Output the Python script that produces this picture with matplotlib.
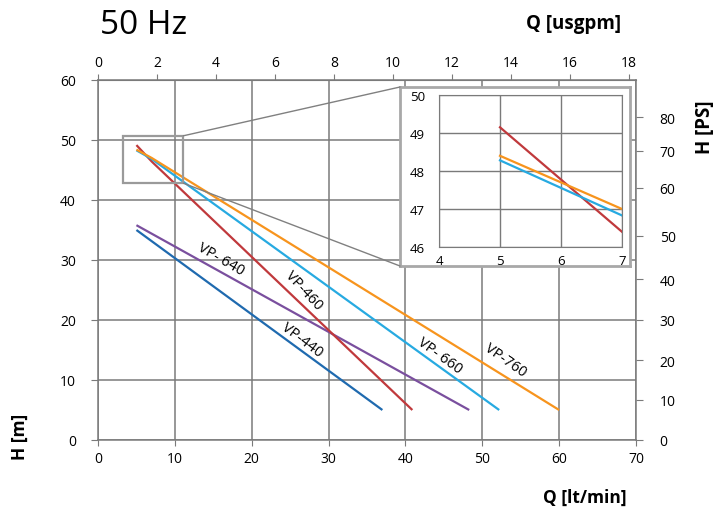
import numpy as np
import matplotlib
matplotlib.use("Agg")
import matplotlib.pyplot as plt
from matplotlib.patches import Rectangle, ConnectionPatch

plt.rcParams['font.family'] = ['Open Sans', 'DejaVu Sans']

# pump curves, Q [lt/min] vs H [m]
q_440 = [5, 37]
h_440 = [35.0, 5.0]
q_640 = [5, 48.3]
h_640 = [35.8, 5.0]
q_460 = [5, 7, 40.9]
h_460 = [49.15, 46.4, 5.0]
q_660 = [5, 7, 52.2]
h_660 = [48.28, 46.83, 5.0]
q_760 = [5, 7, 60]
h_760 = [48.4, 47.0, 5.0]

names = ['VP-440', 'VP- 640', 'VP-460', 'VP- 660', 'VP-760']
colors = ['#1f6aaf', '#7a4f9e', '#c0393c', '#27aae1', '#f7941d']

# secondary scales as printed on the sheet
lpm_per_usgpm = 3.84
usgpm_ticks = [0, 2, 4, 6, 8, 10, 12, 14, 16, 18]
psi_ticks = [0, 10, 20, 30, 40, 50, 60, 70, 80]
psi_tick_at_m = [0, 6.67, 13.33, 20, 26.8, 34.0, 42.0, 48.2, 53.8]

grid_c = '#7a7a7a'

fig = plt.figure(figsize=(7.15, 5.1), dpi=100)
ax = fig.add_axes([98/715, 1-441/510, 538/715, 360/510])

series = [(q_440, h_440), (q_640, h_640), (q_460, h_460), (q_660, h_660), (q_760, h_760)]
for (q, h), c in zip(series, colors):
    ax.plot(q, h, color=c, lw=1.6, solid_capstyle='butt', zorder=3)

ax.set_xlim(0, 70)
ax.set_ylim(0, 60)
ax.set_xticks(np.arange(0, 71, 10))
ax.set_yticks(np.arange(0, 61, 10))
ax.grid(True, color=grid_c, lw=1.1)
for s in ax.spines.values():
    s.set_color(grid_c)
    s.set_linewidth(1.1)
ax.tick_params(axis='y', direction='out', length=5, color=grid_c, pad=11, labelsize=10)
ax.tick_params(axis='x', direction='out', length=4, color=grid_c, pad=4, labelsize=10)

# top axis in US gpm
top = ax.secondary_xaxis('top', functions=(lambda x: x / lpm_per_usgpm, lambda x: x * lpm_per_usgpm))
top.set_xticks(usgpm_ticks)
top.tick_params(direction='out', length=4, color=grid_c, pad=3, labelsize=10)
top.spines['top'].set_color(grid_c)

# right axis in PSI
rax = ax.twinx()
rax.set_ylim(0, 60)
rax.set_yticks(psi_tick_at_m)
rax.set_yticklabels([str(v) for v in psi_ticks])
rax.tick_params(direction='out', length=5, color=grid_c, pad=12, labelsize=10)
for s in rax.spines.values():
    s.set_visible(False)

# curve labels
label_pos = [(26.5, 16.7, -37), (16.0, 30.2, -30), (26.8, 25.0, -47), (44.4, 14.2, -36), (53.0, 13.3, -35)]
for name, (x, y, r) in zip(names, label_pos):
    ax.text(x, y, name, rotation=r, ha='center', va='center', fontsize=10.5,
            rotation_mode='anchor', zorder=4)

# zoom rectangle
ax.add_patch(Rectangle((3.2, 42.8), 7.9, 7.9, fill=False, ec='#9a9a9a', lw=1.6, zorder=4))

# inset frame + inset
frame = fig.add_axes([400/715, 1-267/510, 230/715, 179/510])
frame.set_xticks([])
frame.set_yticks([])
frame.set_facecolor('white')
for s in frame.spines.values():
    s.set_color('#a8a8a8')
    s.set_linewidth(2)

for xy in [(0, 1), (0, 0)]:
    ya = 50.7 if xy[1] == 1 else 42.8
    con = ConnectionPatch(xyA=(11.1, ya), coordsA='data', axesA=ax,
                          xyB=xy, coordsB='axes fraction', axesB=frame,
                          color='#808080', lw=1)
    fig.add_artist(con)

ins = fig.add_axes([439/715, 1-248/510, 183/715, 152/510])
for (q, h), c in zip(series[2:], colors[2:]):
    ins.plot(q, h, color=c, lw=1.6)
ins.set_xlim(4, 7)
ins.set_ylim(46, 50)
ins.set_xticks([4, 5, 6, 7])
ins.set_yticks([46, 47, 48, 49, 50])
ins.grid(True, color=grid_c, lw=1)
for s in ins.spines.values():
    s.set_color(grid_c)
ins.tick_params(length=0, pad=5, labelsize=9.5)
ins.tick_params(axis='y', pad=10)

# texts
fig.text(100/715, 1-25/510, '50 Hz', fontsize=24, va='center', ha='left')
fig.text(573/715, 1-24/510, 'Q [usgpm]', fontsize=13.5, fontweight='bold', ha='center', va='center')
fig.text(585/715, 1-498/510, 'Q [lt/min]', fontsize=12.5, fontweight='bold', ha='center', va='center')
fig.text(20/715, 1-437/510, 'H [m]', fontsize=12.5, fontweight='bold', rotation=90, ha='center', va='center')
fig.text(705/715, 1-127/510, 'H [PS]', fontsize=13.5, fontweight='bold', rotation=90, ha='center', va='center')

fig.savefig('out.png', dpi=100)
